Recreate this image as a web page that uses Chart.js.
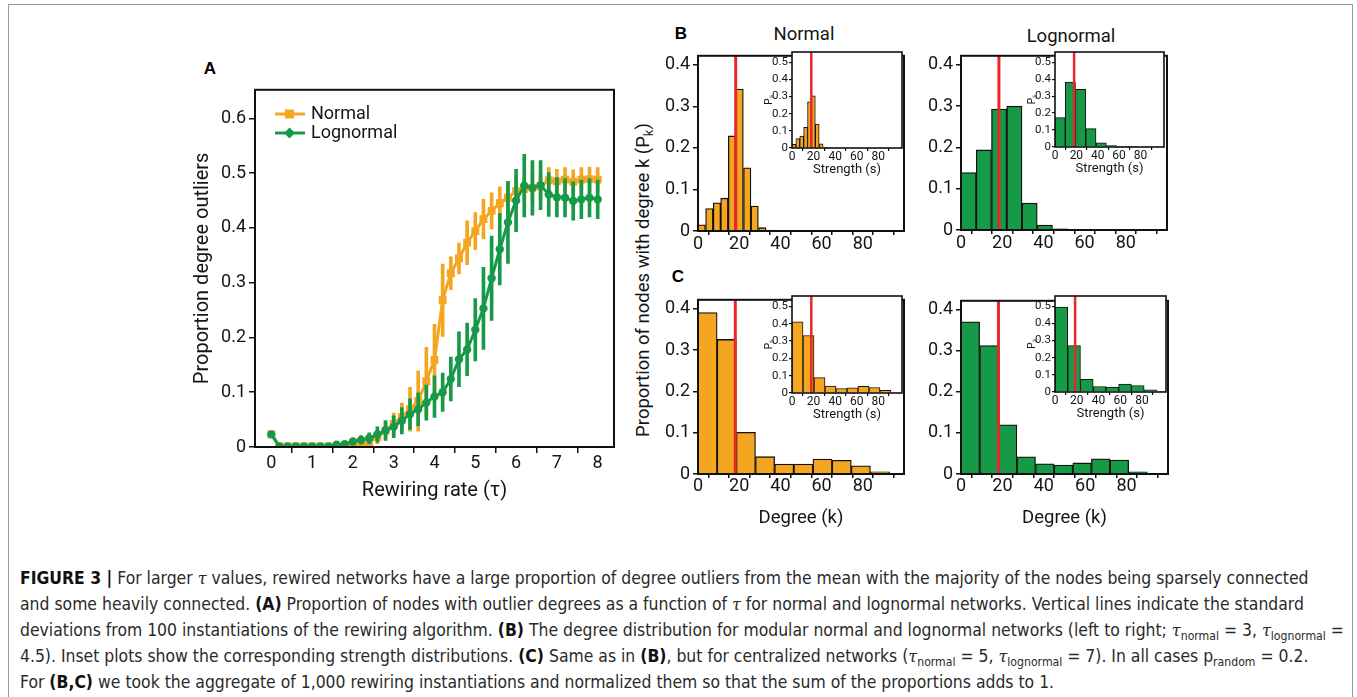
<!DOCTYPE html>
<html>
<head>
<meta charset="utf-8">
<script src="https://cdn.jsdelivr.net/npm/chart.js@4.4.1/dist/chart.umd.min.js"></script>
<style>
  body { margin: 0; background: #fff; width: 1357px; height: 697px; overflow: hidden; position: relative; font-family: Roboto, sans-serif; color: #151515; }
  #frame { position: absolute; left: 8px; top: 4px; width: 1345px; height: 720px; border: 1.5px solid #9a9a9a; box-sizing: border-box; }
  canvas { position: absolute; }
  .lbl { position: absolute; transform: translate(-50%, -50%); white-space: nowrap; line-height: 1; }
  .panel { font-family: "Liberation Sans", Arial, sans-serif; font-weight: bold; font-size: 17px; color: #000; }
  .leg { position: absolute; font-size: 18px; line-height: 1; white-space: nowrap; }
  .leg svg { position: absolute; left: 0; top: -9px; }
  .leg span { position: absolute; left: 36px; top: -10px; }
  sub { font-size: 70%; vertical-align: baseline; position: relative; top: 0.3em; line-height: 0; }
  #cap { position: absolute; left: 20px; top: 565px; font-family: "DejaVu Sans Condensed", "Liberation Sans", sans-serif; font-size: 17.4px; color: #2a2a2a; }
  #cap div { white-space: nowrap; height: 26px; line-height: 26px; }
  #cap b { color: #111; }
  .m { font-family: "DejaVu Serif", serif; font-style: italic; font-size: 16px; line-height: 0; }
</style>
</head>
<body>
<div id="frame"></div>

<div class="lbl panel" style="left:210px;top:68px">A</div>
<div class="lbl panel" style="left:681px;top:33px">B</div>
<div class="lbl panel" style="left:678px;top:276px">C</div>
<div class="lbl" style="left:804px;top:34px;font-size:18.5px">Normal</div>
<div class="lbl" style="left:1071px;top:36px;font-size:18.5px">Lognormal</div>
<div class="lbl" style="left:643px;top:280px;font-size:18.5px;transform:translate(-50%,-50%) rotate(-90deg)">Proportion of nodes with degree k (P<sub>k</sub>)</div>

<canvas id="cA"></canvas>
<canvas id="cB1"></canvas>
<canvas id="cB2"></canvas>
<canvas id="cC1"></canvas>
<canvas id="cC2"></canvas>
<canvas id="iB1"></canvas>
<canvas id="iB2"></canvas>
<canvas id="iC1"></canvas>
<canvas id="iC2"></canvas>

<div class="leg" style="left:275px;top:114px">
  <svg width="32" height="18"><line x1="0" y1="9" x2="30" y2="9" stroke="#f4a621" stroke-width="3"/><rect x="10" y="4.5" width="9" height="9" fill="#f4a621"/></svg><span>Normal</span>
</div>
<div class="leg" style="left:275px;top:133px">
  <svg width="32" height="18"><line x1="0" y1="9" x2="30" y2="9" stroke="#169a48" stroke-width="3"/><polygon points="14.5,3.5 20,9 14.5,14.5 9,9" fill="#169a48"/></svg><span>Lognormal</span>
</div>

<div id="cap">
  <div><b>FIGURE 3 |</b> For larger <span class="m">τ</span> values, rewired networks have a large proportion of degree outliers from the mean with the majority of the nodes being sparsely connected</div>
  <div>and some heavily connected. <b>(A)</b> Proportion of nodes with outlier degrees as a function of <span class="m">τ</span> for normal and lognormal networks. Vertical lines indicate the standard</div>
  <div>deviations from 100 instantiations of the rewiring algorithm. <b>(B)</b> The degree distribution for modular normal and lognormal networks (left to right; <span class="m">τ</span><sub>normal</sub> = 3, <span class="m">τ</span><sub>lognormal</sub> =</div>
  <div>4.5). Inset plots show the corresponding strength distributions. <b>(C)</b> Same as in <b>(B)</b>, but for centralized networks (<span class="m">τ</span><sub>normal</sub> = 5, <span class="m">τ</span><sub>lognormal</sub> = 7). In all cases p<sub>random</sub> = 0.2.</div>
  <div>For <b>(B,C)</b> we took the aggregate of 1,000 rewiring instantiations and normalized them so that the sum of the proportions adds to 1.</div>
</div>

<script>
// Panel A: proportion of degree outliers vs rewiring rate
const tau = [0, 0.2, 0.4, 0.6, 0.8, 1, 1.2, 1.4, 1.6, 1.8, 2, 2.2, 2.4, 2.6, 2.8, 3, 3.2, 3.4, 3.6, 3.8,
             4, 4.2, 4.4, 4.6, 4.8, 5, 5.2, 5.4, 5.6, 5.8, 6, 6.2, 6.4, 6.6, 6.8, 7, 7.2, 7.4, 7.6, 7.8, 8];
const normalMean = [0.023, 0.001, 0.001, 0.001, 0.001, 0.001, 0.001, 0.001, 0.001, 0.001,
                    0.002, 0.004, 0.009, 0.018, 0.03, 0.042, 0.055, 0.069, 0.084, 0.12,
                    0.159, 0.268, 0.317, 0.344, 0.373, 0.394, 0.416, 0.431, 0.445, 0.455,
                    0.467, 0.471, 0.473, 0.476, 0.487, 0.485, 0.488, 0.484, 0.488, 0.489, 0.488];
const normalSd = [0.005, 0.001, 0.001, 0.001, 0.001, 0.001, 0.001, 0.001, 0.001, 0.001,
                  0.002, 0.004, 0.008, 0.012, 0.015, 0.02, 0.025, 0.04, 0.055, 0.062,
                  0.065, 0.066, 0.03, 0.028, 0.04, 0.034, 0.036, 0.033, 0.03, 0.03,
                  0.028, 0.026, 0.025, 0.024, 0.023, 0.022, 0.022, 0.022, 0.022, 0.022, 0.022];
const lognormalMean = [0.023, 0.001, 0.001, 0.001, 0.001, 0.001, 0.001, 0.001, 0.004, 0.005,
                       0.01, 0.013, 0.016, 0.023, 0.03, 0.037, 0.048, 0.06, 0.069, 0.081,
                       0.092, 0.1, 0.124, 0.16, 0.178, 0.214, 0.253, 0.308, 0.361, 0.41,
                       0.45, 0.477, 0.473, 0.478, 0.461, 0.456, 0.455, 0.449, 0.452, 0.455, 0.452];
const lognormalSd = [0.005, 0.001, 0.001, 0.001, 0.001, 0.001, 0.001, 0.001, 0.003, 0.004,
                     0.006, 0.008, 0.01, 0.014, 0.018, 0.02, 0.024, 0.028, 0.03, 0.032,
                     0.038, 0.035, 0.04, 0.05, 0.048, 0.057, 0.075, 0.077, 0.065, 0.075,
                     0.057, 0.057, 0.05, 0.045, 0.04, 0.036, 0.035, 0.035, 0.035, 0.035, 0.035];

// Panel B (modular): degree and strength histograms, bin centres and proportions
const bNormalDegX = [1.8, 5.5, 9.2, 12.8, 16.5, 20.2, 23.9, 27.5, 31.2, 34.9];
const bNormalDegP = [0.015, 0.054, 0.068, 0.079, 0.229, 0.342, 0.152, 0.06, 0.008, 0.002];
const bNormalStrX = [1.8, 5.4, 9.0, 12.6, 16.2, 19.8, 23.4, 27.0, 30.6, 34.2];
const bNormalStrP = [0.021, 0.055, 0.07, 0.12, 0.27, 0.305, 0.139, 0.025, 0.006, 0.001];
const bLogDegX = [3.7, 11.1, 18.5, 25.9, 33.3, 40.7, 48.1, 55.5];
const bLogDegP = [0.139, 0.194, 0.293, 0.3, 0.065, 0.012, 0.003, 0.001];
const bLogStrX = [4.8, 14.4, 24, 33.6, 43.2, 52.8, 62.4, 72];
const bLogStrP = [0.173, 0.382, 0.34, 0.108, 0.024, 0.008, 0.003, 0.001];

// Panel C (centralized)
const cNormalDegX = [4.65, 13.95, 23.25, 32.55, 41.85, 51.15, 60.45, 69.75, 79.05, 88.35];
const cNormalDegP = [0.391, 0.326, 0.101, 0.042, 0.024, 0.024, 0.036, 0.033, 0.02, 0.005];
const cNormalStrX = [5.1, 15.3, 25.5, 35.7, 45.9, 56.1, 66.3, 76.5, 86.7];
const cNormalStrP = [0.411, 0.332, 0.089, 0.04, 0.026, 0.03, 0.038, 0.032, 0.015];
const cLogDegX = [4.5, 13.5, 22.5, 31.5, 40.5, 49.5, 58.5, 67.5, 76.5, 85.5];
const cLogDegP = [0.371, 0.313, 0.12, 0.042, 0.025, 0.022, 0.027, 0.037, 0.034, 0.005];
const cLogStrX = [5.85, 17.55, 29.25, 40.95, 52.65, 64.35, 76.05, 87.75, 99.45];
const cLogStrP = [0.496, 0.271, 0.074, 0.032, 0.029, 0.046, 0.038, 0.013, 0.003];

// mean degree / strength (red lines)
const meanDeg = { bNormal: 18.3, bLog: 18.4, cNormal: 18.1, cLog: 18.1 };
const meanStr = { bNormal: 17.9, bLog: 17.9, cNormal: 17.9, cLog: 18.5 };

const orange = '#f4a621';
const green = '#169a48';
const red = '#e8262d';

Chart.defaults.font.family = 'Roboto';
Chart.defaults.color = '#151515';

// white plot background (for insets) and black frame round the plot area
const frameBox = {
    id: 'frameBox',
    defaults: { fill: null, lineWidth: 2 },
    beforeDraw(chart, args, opts) {
        if (!opts.fill) return;
        const a = chart.chartArea, ctx = chart.ctx;
        ctx.save();
        ctx.fillStyle = opts.fill;
        ctx.fillRect(a.left, a.top, a.width, a.height);
        ctx.restore();
    },
    afterDraw(chart, args, opts) {
        const a = chart.chartArea, ctx = chart.ctx;
        ctx.save();
        ctx.strokeStyle = '#111';
        ctx.lineWidth = opts.lineWidth;
        ctx.strokeRect(a.left, a.top, a.width, a.height);
        ctx.restore();
    }
};
Chart.register(frameBox);

// size and position a canvas so that its plot area lands on the given box
function place(id, l, t, r, b, yW, xH, pt, pr) {
    const c = document.getElementById(id);
    const w = r - l + yW + pr, h = b - t + pt + xH;
    c.width = w; c.height = h;
    c.style.left = (l - yW) + 'px';
    c.style.top = (t - pt) + 'px';
    c.style.width = w + 'px';
    c.style.height = h + 'px';
    return { el: c, pad: { left: 0, top: pt, right: pr, bottom: 0 }, yW, xH };
}

function histChart(id, box, xs, ps, mean, color, cfg) {
    const p = place(id, ...box);
    return new Chart(p.el, {
        type: 'bar',
        data: {
            datasets: [
                {
                    type: 'line',
                    data: [{ x: mean, y: 0 }, { x: mean, y: cfg.yMax }],
                    borderColor: red, borderWidth: cfg.redW, pointRadius: 0, order: 0
                },
                {
                    data: xs.map((x, i) => ({ x: x, y: ps[i] })),
                    backgroundColor: color, borderColor: '#111', borderWidth: cfg.barW,
                    categoryPercentage: 1, barPercentage: 1, order: 1
                }
            ]
        },
        options: {
            responsive: false, maintainAspectRatio: false, animation: false, events: [],
            layout: { padding: p.pad },
            plugins: { legend: { display: false }, tooltip: { enabled: false },
                       frameBox: { fill: cfg.fill, lineWidth: cfg.frameW } },
            scales: {
                x: {
                    type: 'linear', min: 0, max: cfg.xMax, offset: false,
                    border: { display: false },
                    grid: { drawOnChartArea: false, tickLength: cfg.xTl, color: '#111', lineWidth: cfg.tickW },
                    ticks: { stepSize: cfg.xStep, autoSkip: false, includeBounds: false, maxRotation: 0,
                             padding: cfg.xPad, font: { size: cfg.xFont },
                             callback: v => (v % 20 === 0 && v <= 80) ? String(v) : '' },
                    title: { display: !!cfg.xTitle, text: cfg.xTitle, font: { size: cfg.xTitleSize },
                             padding: { top: 0, bottom: cfg.xTitlePb } },
                    afterFit: s => { s.height = p.xH; }
                },
                y: {
                    min: 0, max: cfg.yMax,
                    border: { display: false },
                    grid: { drawOnChartArea: false, tickLength: cfg.yTl, color: '#111', lineWidth: cfg.tickW },
                    ticks: { stepSize: 0.1, includeBounds: false, padding: cfg.yPad, font: { size: cfg.yFont } },
                    title: { display: !!cfg.yTitle, text: cfg.yTitle, font: { size: cfg.yTitleSize }, padding: 0 },
                    afterFit: s => { s.width = p.yW; }
                }
            }
        }
    });
}

const mainCfg = { xMax: 100, yMax: 0.422, xStep: 10, xFont: 18, yFont: 18, xTl: 4, xPad: -1, yTl: 5, yPad: 3,
                  tickW: 1.5, barW: 1.3, redW: 3, frameW: 2, fill: null };
const mainCfgC = Object.assign({}, mainCfg, { xPad: -2, xTitle: 'Degree (k)', xTitleSize: 18.5, xTitlePb: 2 });
const insetCfg = { xMax: 102, yMax: 0.56, xStep: 20, xFont: 12, yFont: 11.5, xTl: 3, xPad: -1, yTl: 3, yPad: 1,
                   tickW: 1.2, barW: 1, redW: 2.5, frameW: 1.6, fill: '#fff',
                   xTitle: 'Strength (s)', xTitleSize: 13, xTitlePb: 0, yTitle: 'Pₛ', yTitleSize: 10 };

histChart('cB1', [698, 48, 904, 231, 42, 26, 6, 4], bNormalDegX, bNormalDegP, meanDeg.bNormal, orange, mainCfg);
histChart('cB2', [961, 48, 1167, 230, 42, 26, 6, 4], bLogDegX, bLogDegP, meanDeg.bLog, green, mainCfg);
histChart('cC1', [698, 292, 904, 474, 42, 57, 6, 4], cNormalDegX, cNormalDegP, meanDeg.cNormal, orange, mainCfgC);
histChart('cC2', [961, 293, 1168, 474, 42, 57, 6, 4], cLogDegX, cLogDegP, meanDeg.cLog, green, mainCfgC);

histChart('iB1', [792, 52, 902, 148, 29, 30, 8, 4], bNormalStrX, bNormalStrP, meanStr.bNormal, orange, insetCfg);
histChart('iB2', [1055, 52, 1164, 147, 29, 30, 8, 4], bLogStrX, bLogStrP, meanStr.bLog, green, insetCfg);
histChart('iC1', [792, 296, 902, 393, 29, 30, 8, 4], cNormalStrX, cNormalStrP, meanStr.cNormal, orange, insetCfg);
histChart('iC2', [1055, 296, 1166, 392, 29, 30, 8, 4], cLogStrX, cLogStrP, meanStr.cLog, green, insetCfg);

// Panel A
const pA = place('cA', 255, 86, 614, 447, 64, 58, 10, 10);
new Chart(pA.el, {
    type: 'line',
    data: {
        datasets: [
            {
                type: 'bar',
                data: tau.map((t, i) => ({ x: t, y: [normalMean[i] - normalSd[i], normalMean[i] + normalSd[i]] })),
                backgroundColor: orange, borderWidth: 0, barThickness: 3, grouped: false, order: 3
            },
            {
                label: 'Normal',
                data: tau.map((t, i) => ({ x: t, y: normalMean[i] })),
                borderColor: orange, backgroundColor: orange, borderWidth: 3,
                pointStyle: 'rect', pointRadius: 5.6, pointBorderWidth: 0, order: 2
            },
            {
                type: 'bar',
                data: tau.map((t, i) => ({ x: t, y: [lognormalMean[i] - lognormalSd[i], lognormalMean[i] + lognormalSd[i]] })),
                backgroundColor: green, borderWidth: 0, barThickness: 3, grouped: false, order: 1
            },
            {
                label: 'Lognormal',
                data: tau.map((t, i) => ({ x: t, y: lognormalMean[i] })),
                borderColor: green, backgroundColor: green, borderWidth: 3,
                pointStyle: 'circle', pointRadius: 4.2, pointBorderWidth: 0, order: 0
            }
        ]
    },
    options: {
        responsive: false, maintainAspectRatio: false, animation: false, events: [],
        layout: { padding: pA.pad },
        plugins: { legend: { display: false }, tooltip: { enabled: false }, frameBox: { lineWidth: 2 } },
        scales: {
            x: {
                type: 'linear', min: -0.4, max: 8.4, offset: false,
                border: { display: false },
                grid: { drawOnChartArea: false, tickLength: 6, color: '#111', lineWidth: 1.5 },
                ticks: { stepSize: 1, includeBounds: false, autoSkip: false, maxRotation: 0, padding: 0, font: { size: 18 } },
                title: { display: true, text: 'Rewiring rate (τ)', font: { size: 20 }, padding: { top: 0, bottom: 2 } },
                afterFit: s => { s.height = pA.xH; }
            },
            y: {
                min: 0, max: 0.652,
                border: { display: false },
                grid: { drawOnChartArea: false, tickLength: 6, color: '#111', lineWidth: 1.5 },
                ticks: { stepSize: 0.1, includeBounds: false, padding: 3, font: { size: 18 } },
                title: { display: true, text: 'Proportion degree outliers', font: { size: 20 }, padding: 0 },
                afterFit: s => { s.width = pA.yW; }
            }
        }
    }
});
</script>
</body>
</html>
